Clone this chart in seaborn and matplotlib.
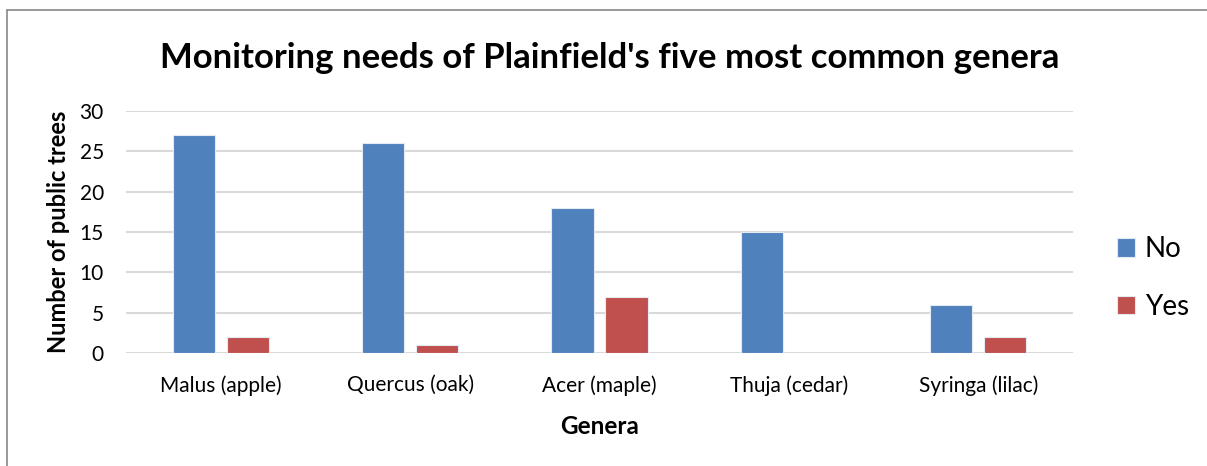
import pandas as pd
import matplotlib
matplotlib.use("Agg")
import matplotlib.pyplot as plt
from matplotlib.lines import Line2D
import seaborn as sns

# data
genera = ["Malus (apple)", "Quercus (oak)", "Acer (maple)", "Thuja (cedar)", "Syringa (lilac)"]
no_counts = [27, 26, 18, 15, 6]
yes_counts = [2, 1, 7, 0, 2]
y_ticks = [0, 5, 10, 15, 20, 25, 30]

df = pd.DataFrame({
    "Genera": genera * 2,
    "Count": no_counts + yes_counts,
    "Monitoring": ["No"] * len(genera) + ["Yes"] * len(genera),
})

sns.set_style("white")
plt.rcParams["font.family"] = ["Lato", "DejaVu Sans"]
plt.rcParams["text.color"] = "black"
plt.rcParams["axes.labelcolor"] = "black"

fig = plt.figure(figsize=(12.07, 4.66), dpi=100)
ax = fig.add_axes([0.1044, 0.2425, 0.7846, 0.5193])

sns.barplot(data=df, x="Genera", y="Count", hue="Monitoring",
            palette={"No": "#4F81BD", "Yes": "#C0504D"}, saturation=1,
            width=0.57, gap=0.22, edgecolor="#E3EAF4", linewidth=0.8,
            ax=ax, zorder=3)

ax.set_ylim(0, 30)
ax.set_yticks(y_ticks)
ax.set_xlim(-0.5, len(genera) - 0.5)
ax.yaxis.grid(True, color="#D9D9D9", linewidth=1.5, zorder=0)
ax.set_axisbelow(True)
for s in ax.spines.values():
    s.set_visible(False)
ax.tick_params(axis="both", length=0, labelsize=15, colors="black")
ax.tick_params(axis="x", pad=16)
ax.tick_params(axis="y", pad=16)

ax.set_xlabel("Genera", fontsize=17.5, fontweight="bold", labelpad=14, color="black")
ax.set_ylabel("Number of public trees", fontsize=17, fontweight="bold", labelpad=7, color="black")
ax.set_title("Monitoring needs of Plainfield's five most common genera",
             fontsize=25, fontweight="bold", pad=31, color="black")
ax.title.set_position((0.511, 1.0))

leg = ax.legend(loc="center left", bbox_to_anchor=(1.02, 0.31), frameon=False,
                fontsize=20, handlelength=0.65, handleheight=0.65,
                labelspacing=1.15, handletextpad=0.35)
for t in leg.get_texts():
    t.set_color("black")

# chart border (left and top edges visible in the crop)
x0, y0 = 7 / 1207, 1 - 10 / 466
fig.add_artist(Line2D([x0, x0], [0, y0], transform=fig.transFigure,
                      color="#878787", linewidth=1.2))
fig.add_artist(Line2D([x0, 1], [y0, y0], transform=fig.transFigure,
                      color="#878787", linewidth=1.2))

fig.savefig("out.png", dpi=100)
